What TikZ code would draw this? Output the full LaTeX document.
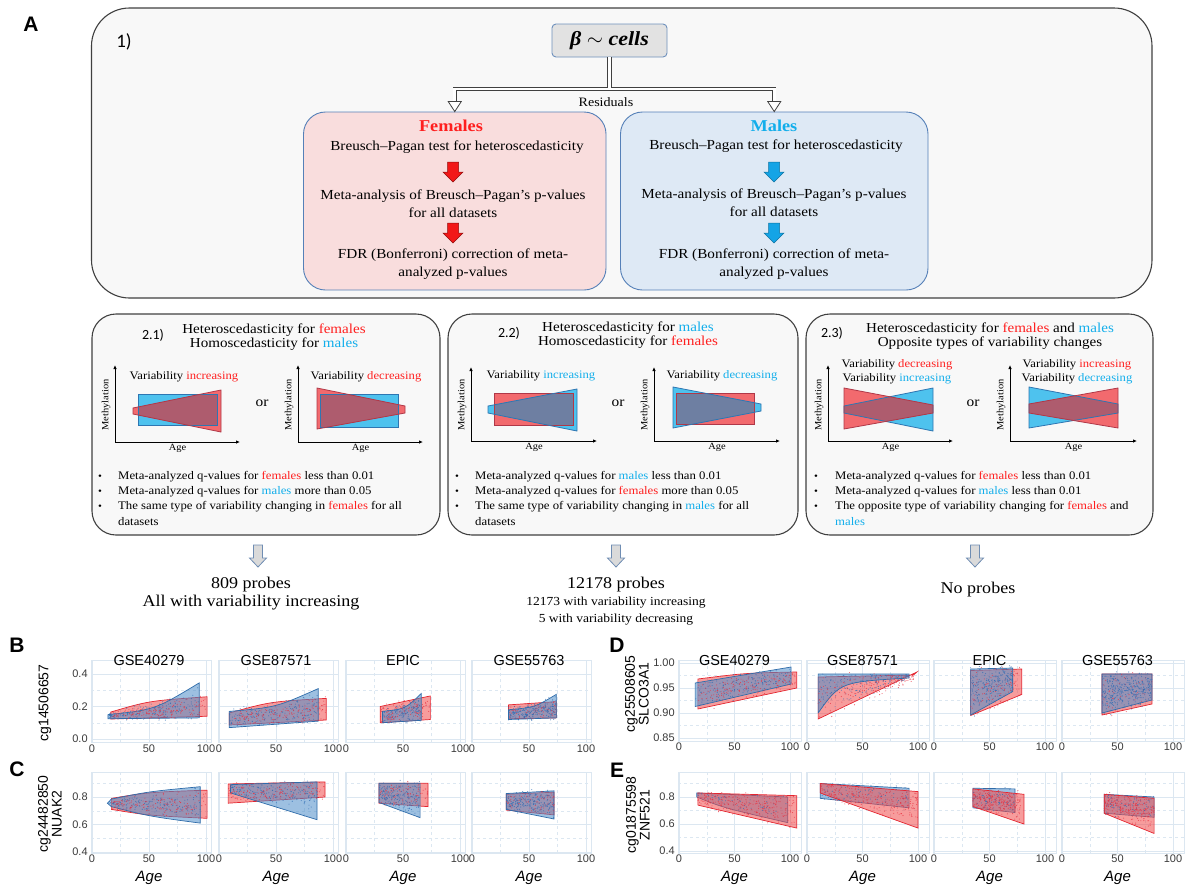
\documentclass[tikz,border=0pt]{standalone}
\usepackage{fontspec}
\setmainfont[FakeStretch=1.1]{Liberation Serif}
\setsansfont{Liberation Sans}
\newfontfamily\calfont{Carlito}
\usetikzlibrary{arrows.meta}
\usetikzlibrary{calc}

\definecolor{frameline}{HTML}{404040}
\definecolor{framefill}{HTML}{F8F8F8}
\definecolor{femfill}{HTML}{F9DDDD}
\definecolor{malefill}{HTML}{DEE9F5}
\definecolor{sexline}{HTML}{5580B8}
\definecolor{modelfill}{HTML}{E2E2E2}
\definecolor{modelline}{HTML}{6E90BC}
\definecolor{fred}{HTML}{FF1F1F}
\definecolor{mblue}{HTML}{12AEEB}
\definecolor{femarr}{HTML}{F21818}
\definecolor{malearr}{HTML}{14A4E6}
\definecolor{hollowfill}{HTML}{DADADA}
\definecolor{hollowline}{HTML}{6F8DB3}
\definecolor{mred}{HTML}{F26A6E}
\definecolor{mredl}{HTML}{B03848}
\definecolor{mblu}{HTML}{4EC2EE}
\definecolor{mblul}{HTML}{2E76B2}
\definecolor{mixrb}{HTML}{AE5C6E}
\definecolor{mixbr}{HTML}{6E7FA2}
\definecolor{gridc}{HTML}{DCE7F1}
\definecolor{tickc}{HTML}{3A3A3A}
\definecolor{pred}{HTML}{F04A4A}
\definecolor{predl}{HTML}{E42630}
\definecolor{pblue}{HTML}{4C8CC8}
\definecolor{pbluel}{HTML}{2F6CAA}
\definecolor{dotb}{HTML}{2E6DB4}
\definecolor{dotr}{HTML}{E83040}

\newcommand{\fsz}[2]{\fontsize{#1}{#2}\selectfont}
\newcommand{\colF}[1]{\textcolor{fred}{#1}}
\newcommand{\colM}[1]{\textcolor{mblue}{#1}}

% frame of one scatter panel: id, ymin, ymax, major, minor, xmax
\newcommand{\frm}[6]{%
  \foreach \g in {#5} \draw[gridc, dashed, line width=0.4pt] (-1,\g) -- (#6,\g);
  \foreach \g in {#4} \draw[gridc, line width=0.5pt] (-1,\g) -- (#6,\g);
  \foreach \g in {25,75} \draw[gridc, dashed, line width=0.4pt] (\g,#2) -- (\g,#3);
  \foreach \g in {0,50,100} \draw[gridc, line width=0.5pt] (\g,#2) -- (\g,#3);
  \draw[gridc, line width=0.7pt] (-1,#2) rectangle (#6,#3);
  \foreach \g in {0,50,100} \node[xtick] (#1x\g) at (\g,#2) {\g};
}
% random points inside a band: colour, n, left, right, lowL, highL, lowR, highR
\newcommand{\scat}[8]{%
  \foreach \k in {1,...,#2}{%
    \pgfmathsetmacro{\ta}{rnd}%
    \pgfmathsetmacro{\tb}{1.3*(rnd+rnd)/2-0.15}%
    \pgfmathsetmacro{\lo}{#5+(#7-#5)*\ta}%
    \pgfmathsetmacro{\hi}{#6+(#8-#6)*\ta}%
    \fill[#1] ({#3+(#4-#3)*\ta},{\lo+(\hi-\lo)*\tb}) circle[radius=0.55pt];
  }}
% two overlapping shapes of a sketch
\newcommand{\mixshapes}[7]{%
  \fill[#3] #1; \fill[#5] #2;
  \begin{scope}\clip #1; \fill[#7] #2;\end{scope}
  \draw[#4, line width=0.8pt] #1; \draw[#6, line width=0.8pt] #2;}
% axes of a sketch: id, ox, oy, xr, yt
\newcommand{\miniaxes}[5]{%
  \draw[miniaxis] (#2,#3) -- (#4,#3);
  \draw[miniaxis] (#2,#3) -- (#2,#5);
  \node[minilab, rotate=90] (#1m) at (#2-9,405) {Methylation};
  \node[minilab] (#1a) at ({(#2+#4)/2},#3+6) {Age};
}

\tikzset{pan/.style n args={4}{shift={(#1,#2)}, x=#3pt, y=#4pt}}

\begin{document}
\begin{tikzpicture}[x=1pt, y=-1pt]
	\tikzstyle{stagebox}=[draw=frameline, line width=1.1pt, fill=framefill, rounded corners=38pt, inner sep=0pt]
	\tikzstyle{casebox}=[draw=frameline, line width=1.1pt, fill=framefill, rounded corners=24pt, inner sep=0pt]
	\tikzstyle{sexbox}=[draw=sexline, line width=0.9pt, rounded corners=22pt, inner sep=0pt]
	\tikzstyle{modelbox}=[draw=modelline, line width=0.9pt, fill=modelfill, rounded corners=4pt, inner sep=0pt]
	\tikzstyle{txt}=[inner sep=0pt, align=center, font=\fsz{13.8}{18}]
	\tikzstyle{headtxt}=[inner sep=0pt, align=center, font=\fsz{13.7}{14.5}]
	\tikzstyle{numtxt}=[inner sep=0pt, font=\calfont\fsz{14}{16}]
	\tikzstyle{bul}=[inner sep=0pt, font=\fsz{10}{12}]
	\tikzstyle{btxt}=[inner sep=0pt, anchor=west, font=\fsz{11.6}{15}]
	\tikzstyle{minititle}=[inner sep=0pt, font=\fsz{11.5}{14}]
	\tikzstyle{minilab}=[inner sep=0pt, font=\fsz{9.5}{11}]
	\tikzstyle{miniaxis}=[line width=0.9pt, -{Latex[length=4pt, width=3.5pt]}]
	\tikzstyle{ortxt}=[inner sep=0pt, font=\fsz{14}{16}]
	\tikzstyle{restxt}=[inner sep=0pt, align=center, font=\fsz{16.4}{18}]
	\tikzstyle{resouter}=[draw=frameline, line width=4.4pt]
	\tikzstyle{resinner}=[draw=white, line width=2.6pt]
	\tikzstyle{reshead}=[fill=white, draw=frameline, line width=0.8pt, line join=miter]
	\tikzstyle{femarrow}=[fill=femarr, draw=femarr!60!black, line width=0.5pt]
	\tikzstyle{malearrow}=[fill=malearr, draw=malearr!70!black, line width=0.5pt]
	\tikzstyle{hollow}=[fill=hollowfill, draw=hollowline, line width=0.8pt]
	\tikzstyle{panlab}=[inner sep=0pt, font=\sffamily\bfseries\fsz{21}{24}]
	\tikzstyle{xtick}=[anchor=north, inner sep=1pt, yshift=-1pt, text=tickc, font=\sffamily\fsz{11}{12}]
	\tikzstyle{ytick}=[anchor=east, inner sep=1pt, xshift=-2pt, text=tickc, font=\sffamily\fsz{11}{12}]
	\tikzstyle{ptitle}=[inner sep=0pt, font=\sffamily\fsz{14.5}{16}]
	\tikzstyle{agetitle}=[inner sep=0pt, yshift=-25pt, font=\sffamily\itshape\fsz{15}{16}]
	\tikzstyle{ylab}=[inner sep=0pt, rotate=90, align=center, font=\sffamily\fsz{14}{11}]
	\tikzstyle{redband}=[fill=pred, fill opacity=0.55, draw=predl, line width=0.7pt]
	\tikzstyle{blueband}=[fill=pblue, fill opacity=0.55, draw=pbluel, line width=0.7pt]
	\tikzstyle{bdot}=[dotb, opacity=0.75]
	\tikzstyle{rdot}=[dotr, opacity=0.75]
	\useasboundingbox (0,0) rectangle (1200,895);
	\pgfmathsetseed{11}

	% ---- part A, step 1
	\node[panlab] (labA) at (31,24) {A};
	\node[stagebox, minimum width=1060.5pt, minimum height=290pt] (stage1) at (621.75,153) {};
	\node[numtxt, font=\calfont\fsz{19}{20}] (num1) at (124,42) {1)};
	\node[modelbox, minimum width=115pt, minimum height=33pt, font=\bfseries\itshape\fsz{20}{22}] (beta) at (609.5,40.5) {β \(\sim\) cells};
	\node[sexbox, fill=femfill, minimum width=302.5pt, minimum height=178pt] (fem) at (454.75,201) {};
	\node[sexbox, fill=malefill, minimum width=307.5pt, minimum height=178pt] (male) at (774.25,201) {};
	\coordinate (split) at (609.5,89);
	\draw[resouter, shorten <=9pt, shorten >=9pt] (fem.north) |- (split) -| (male.north);
	\draw[resouter] (beta.south) -- (split);
	\draw[resinner, shorten <=9.5pt, shorten >=9.5pt] (fem.north) |- (split) -| (male.north);
	\draw[resinner] (beta.south) -- (split);
	\draw[reshead] ($(fem.north)+(-6.5,-10)$) -- (fem.north) -- ($(fem.north)+(6.5,-10)$) -- cycle;
	\draw[reshead] ($(male.north)+(-6.5,-10)$) -- (male.north) -- ($(male.north)+(6.5,-10)$) -- cycle;
	\node[txt, font=\fsz{12.8}{14}] (resid) at (606,102) {Residuals};

	\node[txt, font=\bfseries\fsz{16.6}{18}, text=fred] (femt) at (451,126) {Females};
	\node[txt] (fem1) at (457,147) {Breusch–Pagan test for heteroscedasticity};
	\node[txt] (fem2) at (453,204) {Meta-analysis of Breusch–Pagan’s p-values\\for all datasets};
	\node[txt] (fem3) at (453,264) {FDR (Bonferroni) correction of meta-\\analyzed p-values};
	\draw[femarrow, shift={(453,172)}] (-5.5,-10) -- (5.5,-10) -- (5.5,0) -- (10,0) -- (0,10) -- (-10,0) -- (-5.5,0) -- cycle;
	\draw[femarrow, shift={(453,233)}] (-5.5,-10) -- (5.5,-10) -- (5.5,0) -- (10,0) -- (0,10) -- (-10,0) -- (-5.5,0) -- cycle;

	\node[txt, font=\bfseries\fsz{16.6}{18}, text=mblue] (malet) at (774,126) {Males};
	\node[txt] (male1) at (776,146) {Breusch–Pagan test for heteroscedasticity};
	\node[txt] (male2) at (774,203) {Meta-analysis of Breusch–Pagan’s p-values\\for all datasets};
	\node[txt] (male3) at (774,264) {FDR (Bonferroni) correction of meta-\\analyzed p-values};
	\draw[malearrow, shift={(774,172)}] (-5.5,-10) -- (5.5,-10) -- (5.5,0) -- (10,0) -- (0,10) -- (-10,0) -- (-5.5,0) -- cycle;
	\draw[malearrow, shift={(774,233)}] (-5.5,-10) -- (5.5,-10) -- (5.5,0) -- (10,0) -- (0,10) -- (-10,0) -- (-5.5,0) -- cycle;

	% ---- part A, step 2
	\node[casebox, minimum width=348pt, minimum height=221pt] (h21) at (266,424.5) {};
	\node[casebox, minimum width=350pt, minimum height=221pt] (h22) at (623,424.5) {};
	\node[casebox, minimum width=347pt, minimum height=221pt] (h23) at (979.5,424.5) {};

	\node[numtxt] (n21) at (153,335) {2.1)};
	\node[headtxt] (hd21) at (274,337) {Heteroscedasticity for \colF{females}\\Homoscedasticity for \colM{males}};
	\node[numtxt] (n22) at (509,333) {2.2)};
	\node[headtxt] (hd22) at (628,335) {Heteroscedasticity for \colM{males}\\Homoscedasticity for \colF{females}};
	\node[numtxt] (n23) at (832,333) {2.3)};
	\node[headtxt] (hd23) at (990,336) {Heteroscedasticity for \colF{females} and \colM{males}\\Opposite types of variability changes};

	% sketches 2.1
	\mixshapes{(138,394) rectangle (217,425)}{(133,408) -- (221,390) -- (221,432) -- (133,414) -- cycle}{mblu}{mblul}{mred}{mredl}{mixrb}
	\miniaxes{s21a}{115}{442}{240}{365}
	\node[minititle] (v21a) at (184,377) {Variability \colF{increasing}};
	\node[ortxt] (or21) at (262,403) {or};
	\mixshapes{(320,394) rectangle (398,427)}{(317,388) -- (405,406) -- (405,413) -- (317,429) -- cycle}{mblu}{mblul}{mred}{mredl}{mixrb}
	\miniaxes{s21b}{298}{442}{423}{365}
	\node[minititle] (v21b) at (366,377) {Variability \colF{decreasing}};

	% sketches 2.2
	\mixshapes{(494,393) rectangle (573,425)}{(488,406) -- (577,389) -- (577,431) -- (488,413) -- cycle}{mred}{mredl}{mblu}{mblul}{mixbr}
	\miniaxes{s22a}{471}{441}{597}{367}
	\node[minititle] (v22a) at (541,376) {Variability \colM{increasing}};
	\node[ortxt] (or22) at (618,403) {or};
	\mixshapes{(676,393) rectangle (754,424)}{(673,387) -- (761,404) -- (761,411) -- (673,428) -- cycle}{mred}{mredl}{mblu}{mblul}{mixbr}
	\miniaxes{s22b}{654}{441}{780}{367}
	\node[minititle] (v22b) at (722,376) {Variability \colM{decreasing}};

	% sketches 2.3
	\mixshapes{(844,406) -- (933,388) -- (933,431) -- (844,413) -- cycle}{(844,388) -- (933,405) -- (933,413) -- (844,429) -- cycle}{mblu}{mblul}{mred}{mredl}{mixrb}
	\miniaxes{s23a}{828}{441}{953}{365}
	\node[minititle, align=center, font=\fsz{11.5}{14}] (v23a) at (897,372) {Variability \colF{decreasing}\\Variability \colM{increasing}};
	\node[ortxt] (or23) at (973,403) {or};
	\mixshapes{(1029,387) -- (1118,404) -- (1118,413) -- (1029,428) -- cycle}{(1029,404) -- (1118,388) -- (1118,428) -- (1029,413) -- cycle}{mblu}{mblul}{mred}{mredl}{mixrb}
	\miniaxes{s23b}{1010}{441}{1137}{365}
	\node[minititle, align=center, font=\fsz{11.5}{14}] (v23b) at (1077,372) {Variability \colF{increasing}\\Variability \colM{decreasing}};

	% criteria
	\foreach \yy [count=\c] in {477,492,507} {
		\node[bul] (u21\c) at (100,\yy) {•};
		\node[bul] (u22\c) at (457,\yy) {•};
		\node[bul] (u23\c) at (816,\yy) {•};
	}
	\node[btxt] (c21a) at (118,477) {Meta-analyzed q-values for \colF{females} less than 0.01};
	\node[btxt] (c21b) at (118,492) {Meta-analyzed q-values for \colM{males} more than 0.05};
	\node[btxt] (c21c) at (118,507) {The same type of variability changing in \colF{females} for all};
	\node[btxt] (c21d) at (118,522) {datasets};
	\node[btxt] (c22a) at (475,477) {Meta-analyzed q-values for \colM{males} less than 0.01};
	\node[btxt] (c22b) at (475,492) {Meta-analyzed q-values for \colF{females} more than 0.05};
	\node[btxt] (c22c) at (475,507) {The same type of variability changing in \colM{males} for all};
	\node[btxt] (c22d) at (475,522) {datasets};
	\node[btxt] (c23a) at (835,477) {Meta-analyzed q-values for \colF{females} less than 0.01};
	\node[btxt] (c23b) at (835,492) {Meta-analyzed q-values for \colM{males} less than 0.01};
	\node[btxt] (c23c) at (835,507) {The opposite type of variability changing for \colF{females} and};
	\node[btxt] (c23d) at (835,522) {\colM{males}};

	% results
	\node[restxt] (r21) at (251,594) {809 probes\\All with variability increasing};
	\node[restxt] (r22) at (616,585) {12178 probes};
	\node[restxt, font=\fsz{12.3}{17}] (r22b) at (616,611.5) {12173 with variability increasing\\5 with variability decreasing};
	\node[restxt] (r23) at (978,590) {No probes};
	\draw[hollow, shift={(258,556)}] (-4.5,-11) -- (4.5,-11) -- (4.5,2) -- (8.5,2) -- (0,11) -- (-8.5,2) -- (-4.5,2) -- cycle;
	\draw[hollow, shift={(616,556)}] (-4.5,-11) -- (4.5,-11) -- (4.5,2) -- (8.5,2) -- (0,11) -- (-8.5,2) -- (-4.5,2) -- cycle;
	\draw[hollow, shift={(975,556)}] (-4.5,-11) -- (4.5,-11) -- (4.5,2) -- (8.5,2) -- (0,11) -- (-8.5,2) -- (-4.5,2) -- cycle;

	% ---- parts B to E
	\node[panlab] (labB) at (17,645) {B};
	\node[panlab] (labC) at (17,769) {C};
	\node[panlab] (labD) at (617,645) {D};
	\node[panlab] (labE) at (617,770) {E};
	\node[ylab] (yB) at (45,703) {cg14506657};
	\node[ylab] (yC) at (50,814) {cg24482850\\NUAK2};
	\node[ylab] (yD) at (637,694) {cg25508605\\SLCO3A1};
	\node[ylab] (yE) at (638,815) {cg01875598\\ZNF521};

	% row B
	\begin{scope}[pan={92}{739}{1.14}{162.5}]
		\frm{B1}{-0.02}{0.486}{0,0.2,0.4}{0.1,0.3}{105}
		\foreach \g/\t [count=\c] in {0/0.0,0.2/0.2,0.4/0.4} \node[ytick] (B1y\c) at (-1,\g) {\t};
		\node[ptitle] (B1t) at (50,0.486) {GSE40279};
		\fill[redband] (16.5,0.123) -- (16.5,0.166) .. controls (50,0.235) .. (101,0.26) -- (101,0.14) -- cycle;
		\fill[blueband] (14,0.125) -- (14,0.15) .. controls (55,0.18) .. (94,0.345) -- (94,0.13) -- cycle;
		\scat{bdot}{170}{15}{94}{0.125}{0.16}{0.13}{0.30}
		\scat{rdot}{160}{17}{100}{0.123}{0.166}{0.14}{0.26}
	\end{scope}
	\begin{scope}[pan={219}{739}{1.14}{162.5}]
		\frm{B2}{-0.02}{0.486}{0,0.2,0.4}{0.1,0.3}{105}
		\node[ptitle] (B2t) at (50,0.486) {GSE87571};
		\fill[redband] (9,0.086) -- (9,0.16) .. controls (45,0.23) .. (94,0.25) -- (94,0.117) -- cycle;
		\fill[blueband] (9,0.07) -- (9,0.17) .. controls (50,0.195) .. (87,0.31) -- (87,0.11) -- cycle;
		\scat{bdot}{170}{9}{87}{0.07}{0.17}{0.11}{0.28}
		\scat{rdot}{160}{9}{94}{0.086}{0.16}{0.117}{0.25}
	\end{scope}
	\begin{scope}[pan={346}{739}{1.14}{162.5}]
		\frm{B3}{-0.02}{0.486}{0,0.2,0.4}{0.1,0.3}{105}
		\node[ptitle] (B3t) at (50,0.486) {EPIC};
		\fill[redband] (30,0.10) -- (30,0.20) -- (74,0.265) -- (74,0.12) -- cycle;
		\fill[blueband] (32,0.10) -- (32,0.17) .. controls (52,0.185) .. (66,0.28) -- (66,0.115) -- cycle;
		\scat{bdot}{160}{32}{66}{0.10}{0.17}{0.115}{0.26}
		\scat{rdot}{110}{30}{74}{0.10}{0.20}{0.12}{0.265}
	\end{scope}
	\begin{scope}[pan={472}{739}{1.14}{162.5}]
		\frm{B4}{-0.02}{0.486}{0,0.2,0.4}{0.1,0.3}{105}
		\node[ptitle] (B4t) at (50,0.486) {GSE55763};
		\fill[redband] (32,0.125) -- (32,0.21) -- (74,0.23) -- (74,0.13) -- cycle;
		\fill[blueband] (32,0.12) -- (32,0.18) .. controls (55,0.195) .. (74,0.275) -- (74,0.13) -- cycle;
		\scat{rdot}{70}{32}{74}{0.125}{0.21}{0.13}{0.23}
		\scat{bdot}{220}{32}{74}{0.12}{0.19}{0.13}{0.25}
	\end{scope}

	% row C
	\begin{scope}[pan={92}{907}{1.14}{137.5}]
		\frm{C1}{0.393}{0.982}{0.4,0.6,0.8}{0.5,0.7,0.9}{105}
		\foreach \g/\t [count=\c] in {0.4/0.4,0.6/0.6,0.8/0.8} \node[ytick] (C1y\c) at (-1,\g) {\t};
		\node[agetitle] (C1age) at (50,0.393) {Age};
		\fill[redband] (17,0.79) .. controls (50,0.835) .. (101,0.85) -- (101,0.645) .. controls (50,0.665) .. (17,0.71) -- cycle;
		\fill[blueband] (13.5,0.755) -- (17,0.785) .. controls (50,0.84) .. (95,0.875) -- (95,0.61) .. controls (50,0.66) .. (17,0.73) -- cycle;
		\scat{bdot}{170}{15}{95}{0.74}{0.78}{0.62}{0.86}
		\scat{rdot}{160}{17}{100}{0.71}{0.79}{0.65}{0.85}
	\end{scope}
	\begin{scope}[pan={219}{907}{1.14}{137.5}]
		\frm{C2}{0.393}{0.982}{0.4,0.6,0.8}{0.5,0.7,0.9}{105}
		\node[agetitle] (C2age) at (50,0.393) {Age};
		\fill[redband] (8,0.755) -- (8,0.895) -- (93,0.91) -- (93,0.80) -- cycle;
		\fill[blueband] (10,0.83) -- (10,0.89) -- (86,0.91) -- (86,0.635) -- cycle;
		\scat{bdot}{170}{10}{86}{0.83}{0.89}{0.70}{0.91}
		\scat{rdot}{160}{8}{93}{0.76}{0.895}{0.80}{0.91}
	\end{scope}
	\begin{scope}[pan={346}{907}{1.14}{137.5}]
		\frm{C3}{0.393}{0.982}{0.4,0.6,0.8}{0.5,0.7,0.9}{105}
		\node[agetitle] (C3age) at (50,0.393) {Age};
		\fill[redband] (29,0.755) -- (29,0.9) -- (72,0.9) -- (72,0.73) -- cycle;
		\fill[blueband] (29,0.76) -- (29,0.9) -- (65,0.9) -- (65,0.65) -- cycle;
		\scat{rdot}{110}{29}{72}{0.755}{0.9}{0.73}{0.9}
		\scat{bdot}{190}{29}{65}{0.76}{0.9}{0.68}{0.9}
	\end{scope}
	\begin{scope}[pan={472}{907}{1.14}{137.5}]
		\frm{C4}{0.393}{0.982}{0.4,0.6,0.8}{0.5,0.7,0.9}{105}
		\node[agetitle] (C4age) at (50,0.393) {Age};
		\fill[redband] (30,0.705) -- (30,0.82) -- (72,0.835) -- (72,0.67) -- cycle;
		\fill[blueband] (30,0.71) -- (30,0.825) -- (72,0.845) -- (72,0.64) -- cycle;
		\scat{rdot}{80}{30}{72}{0.705}{0.82}{0.67}{0.835}
		\scat{bdot}{220}{30}{72}{0.71}{0.825}{0.66}{0.84}
	\end{scope}

	% row D
	\begin{scope}[pan={679}{1163}{1.11}{500}]
		\frm{D1}{0.844}{1.006}{0.85,0.9,0.95,1.0}{0.875,0.925,0.975}{110}
		\foreach \g/\t [count=\c] in {0.85/0.85,0.9/0.90,0.95/0.95,1.0/1.00} \node[ytick] (D1y\c) at (-1,\g) {\t};
		\node[ptitle] (D1t) at (50,1.006) {GSE40279};
		\fill[redband] (17,0.908) -- (17,0.968) .. controls (60,0.98) .. (106,0.982) -- (106,0.95) -- cycle;
		\fill[blueband] (14.5,0.913) -- (14.5,0.96) -- (101,0.992) -- (101,0.958) -- cycle;
		\scat{bdot}{170}{15}{101}{0.913}{0.96}{0.958}{0.99}
		\scat{rdot}{160}{17}{105}{0.908}{0.968}{0.95}{0.982}
	\end{scope}
	\begin{scope}[pan={807}{1163}{1.11}{500}]
		\frm{D2}{0.844}{1.006}{0.85,0.9,0.95,1.0}{0.875,0.925,0.975}{110}
		\node[ptitle] (D2t) at (50,1.006) {GSE87571};
		\fill[redband] (10,0.888) -- (10,0.972) -- (96,0.976) -- (99,0.982) -- cycle;
		\fill[blueband] (10,0.90) -- (10,0.978) -- (92,0.978) -- (92,0.970) .. controls (30,0.962) .. (10,0.90);
		\scat{bdot}{170}{10}{92}{0.90}{0.978}{0.970}{0.978}
		\scat{rdot}{160}{10}{96}{0.89}{0.972}{0.965}{0.977}
	\end{scope}
	\begin{scope}[pan={934}{1163}{1.11}{500}]
		\frm{D3}{0.844}{1.006}{0.85,0.9,0.95,1.0}{0.875,0.925,0.975}{110}
		\node[ptitle] (D3t) at (50,1.006) {EPIC};
		\fill[redband] (33,0.895) -- (33,0.985) -- (79,0.988) -- (79,0.937) -- cycle;
		\fill[blueband] (33,0.896) -- (33,0.988) -- (71,0.99) -- (71,0.943) -- cycle;
		\scat{rdot}{100}{33}{79}{0.895}{0.985}{0.937}{0.988}
		\scat{bdot}{230}{33}{71}{0.90}{0.988}{0.943}{0.99}
	\end{scope}
	\begin{scope}[pan={1062}{1163}{1.11}{500}]
		\frm{D4}{0.844}{1.006}{0.85,0.9,0.95,1.0}{0.875,0.925,0.975}{110}
		\node[ptitle] (D4t) at (50,1.006) {GSE55763};
		\fill[redband] (36,0.896) -- (36,0.978) -- (81,0.978) -- (81,0.918) -- cycle;
		\fill[blueband] (36,0.90) -- (36,0.978) -- (81,0.978) -- (81,0.926) -- cycle;
		\scat{rdot}{60}{36}{81}{0.896}{0.978}{0.918}{0.978}
		\scat{bdot}{380}{36}{81}{0.90}{0.978}{0.926}{0.978}
	\end{scope}

	% row E
	\begin{scope}[pan={679}{905}{1.11}{135}]
		\frm{E1}{0.385}{0.985}{0.4,0.6,0.8}{0.5,0.7,0.9}{110}
		\foreach \g/\t [count=\c] in {0.4/0.4,0.6/0.6,0.8/0.8} \node[ytick] (E1y\c) at (-1,\g) {\t};
		\node[agetitle] (E1age) at (50,0.385) {Age};
		\fill[blueband] (16,0.80) -- (16,0.83) -- (98,0.80) -- (98,0.61) .. controls (40,0.72) .. (16,0.80);
		\fill[redband] (17,0.74) -- (17,0.83) -- (106,0.81) -- (106,0.57) -- cycle;
		\scat{bdot}{60}{16}{98}{0.80}{0.83}{0.61}{0.80}
		\scat{rdot}{250}{17}{104}{0.74}{0.83}{0.58}{0.81}
	\end{scope}
	\begin{scope}[pan={807}{905}{1.11}{135}]
		\frm{E2}{0.385}{0.985}{0.4,0.6,0.8}{0.5,0.7,0.9}{110}
		\node[agetitle] (E2age) at (50,0.385) {Age};
		\fill[blueband] (12,0.79) -- (12,0.90) -- (92,0.865) -- (92,0.72) -- cycle;
		\fill[redband] (12,0.83) -- (12,0.90) -- (100,0.84) -- (100,0.57) -- cycle;
		\scat{bdot}{80}{12}{92}{0.79}{0.90}{0.72}{0.865}
		\scat{rdot}{250}{12}{100}{0.80}{0.90}{0.62}{0.84}
	\end{scope}
	\begin{scope}[pan={934}{905}{1.11}{135}]
		\frm{E3}{0.385}{0.985}{0.4,0.6,0.8}{0.5,0.7,0.9}{110}
		\node[agetitle] (E3age) at (50,0.385) {Age};
		\fill[blueband] (35,0.72) -- (35,0.865) -- (73,0.86) -- (73,0.685) -- cycle;
		\fill[redband] (35,0.73) -- (35,0.86) -- (81,0.82) -- (81,0.60) -- cycle;
		\scat{bdot}{80}{35}{73}{0.72}{0.865}{0.685}{0.86}
		\scat{rdot}{260}{35}{78}{0.73}{0.86}{0.64}{0.83}
	\end{scope}
	\begin{scope}[pan={1062}{905}{1.11}{135}]
		\frm{E4}{0.385}{0.985}{0.4,0.6,0.8}{0.5,0.7,0.9}{110}
		\node[agetitle] (E4age) at (50,0.385) {Age};
		\fill[blueband] (38,0.68) -- (38,0.82) -- (83,0.80) -- (83,0.65) -- cycle;
		\fill[redband] (38,0.68) -- (38,0.82) -- (83,0.79) -- (83,0.53) -- cycle;
		\scat{bdot}{80}{38}{83}{0.68}{0.82}{0.65}{0.80}
		\scat{rdot}{250}{38}{83}{0.68}{0.82}{0.58}{0.79}
	\end{scope}
\end{tikzpicture}
\end{document}
